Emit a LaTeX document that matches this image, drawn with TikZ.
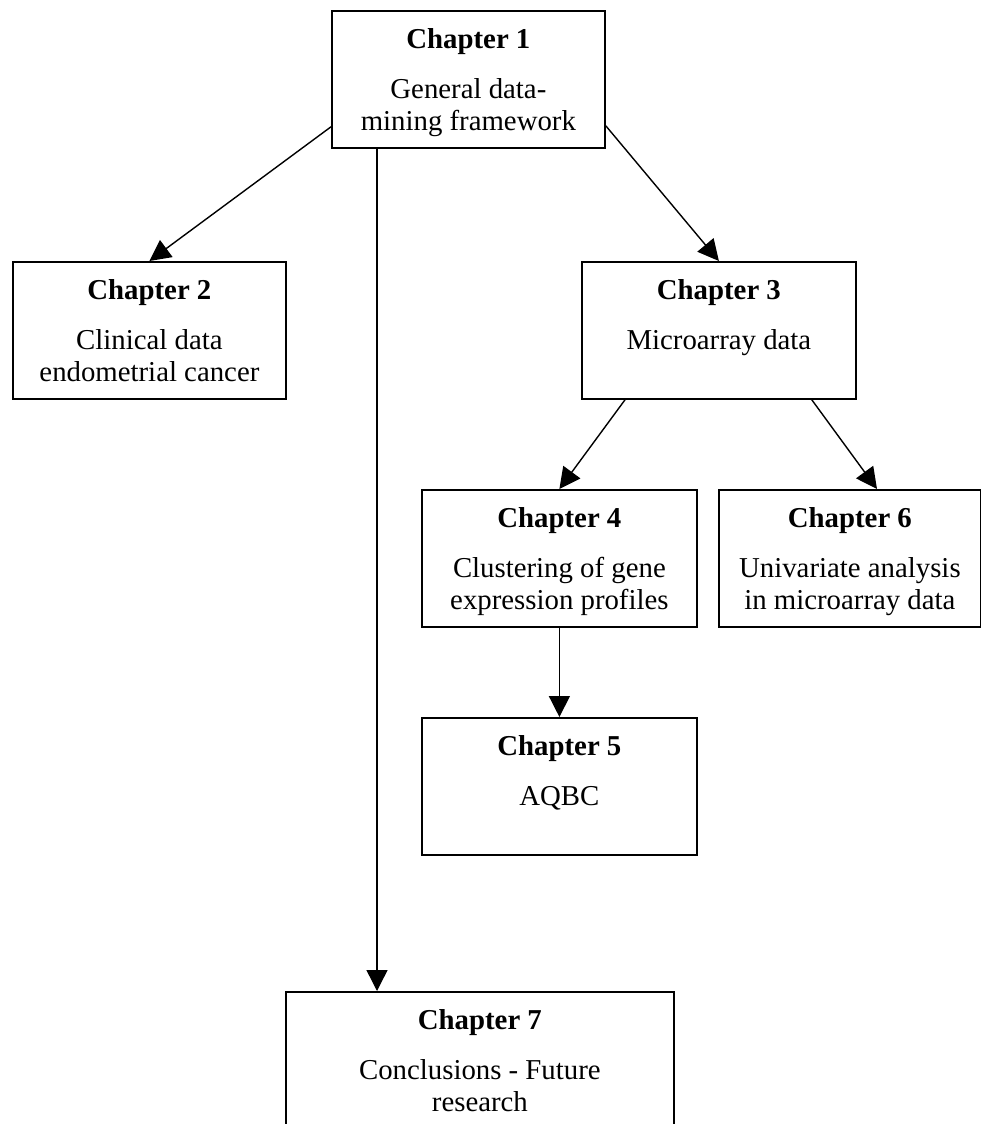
\documentclass[tikz,border=0pt]{standalone}
\usepackage{fontspec}
\setmainfont{Liberation Serif}
\usetikzlibrary{arrows.meta,calc}

\begin{document}
\begin{tikzpicture}[x=1pt,y=1pt,
	chapter/.style={draw, line width=1.8pt, inner sep=0pt, anchor=north west,
		font=\fontsize{28.8}{32}\selectfont,
		execute at begin node={\begin{minipage}[c][137pt][t]{#1}\centering\rule{0pt}{38pt}},
		execute at end node={\end{minipage}}},
	chapter/.default=273pt,
	link/.style={line width=1.4pt, -{Triangle[length=21pt,width=21pt]}}]
	\useasboundingbox (0,0) rectangle (981,-1124);
	% chapter boxes
	\node[chapter] (ch1) at (331,-10) {\textbf{Chapter 1}\\[18pt]General data-\\mining framework};
	\node[chapter] (ch2) at (12,-261) {\textbf{Chapter 2}\\[18pt]Clinical data\\endometrial cancer};
	\node[chapter=274pt] (ch3) at (581,-261) {\textbf{Chapter 3}\\[18pt]Microarray data};
	\node[chapter=275pt] (ch4) at (421,-489) {\textbf{Chapter 4}\\[18pt]Clustering of gene\\expression profiles};
	\node[chapter=262pt] (ch6) at (718,-489) {\textbf{Chapter 6}\\[18pt]Univariate analysis\\in microarray data};
	\node[chapter=275pt] (ch5) at (421,-717) {\textbf{Chapter 5}\\[18pt]AQBC};
	\node[chapter=388pt] (ch7) at (285,-991) {\textbf{Chapter 7}\\[18pt]Conclusions - Future\\research};
	% arrows
	\draw[link] ($(ch1.south west)+(0,22)$) -- (ch2.north);
	\draw[link] ($(ch1.south east)+(0,23)$) -- (ch3.north);
	\draw[link] ($(ch1.south west)+(46,0)$) coordinate (drop) -- (drop |- ch7.north);
	\draw[link] ($(ch3.south west)+(44,0)$) -- (ch4.north);
	\draw[link] ($(ch3.south east)+(-45,0)$) -- ($(ch6.north west)+(159,0)$);
	\draw[link] (ch4) -- (ch5);
\end{tikzpicture}
\end{document}
